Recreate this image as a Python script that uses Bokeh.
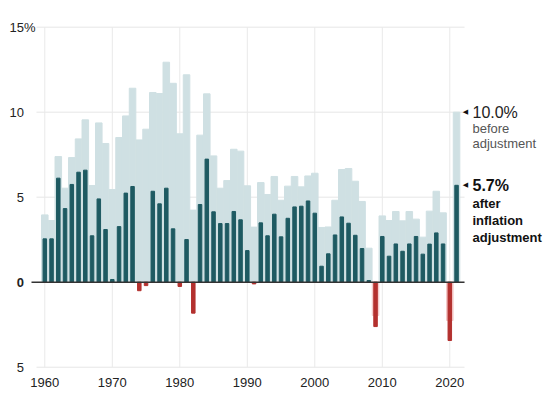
from bokeh.plotting import figure
from bokeh.models import ColumnDataSource, FixedTicker, Label
from bokeh.core.properties import value
from bokeh.embed import file_html
from bokeh.resources import INLINE

years = list(range(1960, 2022))
before = [3.96, 3.63, 7.39, 5.53, 7.33, 8.43, 9.55, 5.69, 9.37, 8.16,
          5.45, 8.51, 9.78, 11.41, 8.37, 9.0, 11.16, 11.1, 12.94, 11.7,
          8.73, 12.2, 4.24, 8.65, 11.08, 7.43, 5.53, 5.98, 7.82, 7.71,
          5.67, 3.24, 5.86, 5.16, 6.22, 4.82, 5.65, 6.22, 5.61, 6.25,
          6.41, 3.22, 3.25, 4.82, 6.63, 6.69, 5.94, 4.75, 2.0, -1.96,
          3.9, 3.63, 4.16, 3.61, 4.16, 3.71, 2.65, 4.18, 5.35, 4.08,
          -2.25, 10.0]
after = [2.55, 2.55, 6.12, 4.33, 5.75, 6.47, 6.59, 2.73, 4.9, 3.1,
         0.16, 3.27, 5.24, 5.63, -0.5, -0.2, 5.35, 4.61, 5.53, 3.14,
         -0.25, 2.51, -1.82, 4.57, 7.24, 4.14, 3.45, 3.45, 4.16, 3.67,
         1.86, -0.1, 3.49, 2.73, 4.0, 2.67, 3.76, 4.43, 4.47, 4.78,
         4.06, 0.94, 1.67, 2.78, 3.84, 3.47, 2.76, 1.98, 0.1, -2.61,
         2.69, 1.53, 2.25, 1.82, 2.25, 2.69, 1.65, 2.24, 2.9, 2.25,
         -3.43, 5.7]
y_ticks = [-5, 0, 5, 10, 15]
y_tick_labels = ["5", "0", "5", "10", "15"]
x_ticks = [1960, 1970, 1980, 1990, 2000, 2010, 2020]

LIGHT = "#cfe0e3"
PINK = "#f4c9c9"
DARK = "#1e5a62"
RED = "#b3312f"
FONT = "Liberation Sans"

# plot area edges (in data units)
X0, X1 = 1958.77, 2022.18
Y0, Y1 = min(y_ticks), max(y_ticks)

p = figure(width=549, height=394, output_backend="svg", toolbar_location=None,
           x_range=(1953.437, 2034.77), y_range=(-5.37, 16.57),
           y_axis_location=None,
           min_border_left=0, min_border_right=0, min_border_top=0,
           min_border_bottom=21)
p.outline_line_color = None
p.grid.visible = False

# grid lines
p.segment(x0=X0, x1=X1, y0=y_ticks, y1=y_ticks, line_color="#e6e6e6", line_width=1)
p.segment(x0=x_ticks, x1=x_ticks, y0=Y0, y1=Y1, line_color="#e9e9e9", line_width=1)

src = ColumnDataSource(dict(
    x=years, before=before, after=after,
    lc=[LIGHT if v >= 0 else PINK for v in before],
    dc=[DARK if v >= 0 else RED for v in after],
))
p.vbar(x="x", top="before", bottom=0, width=0.97, color="lc", source=src)
p.vbar(x="x", top="after", bottom=0, width=0.52, color="dc", source=src)

# zero line
p.segment(x0=X0 - 0.74, x1=X1, y0=0, y1=0, line_color="#333333", line_width=1.6)

# y tick labels
lab_src = ColumnDataSource(dict(
    y=y_ticks, t=y_tick_labels,
    st=["bold" if v == 0 else "normal" for v in y_ticks],
))
LX = 1956.9
p.text(x=LX, y="y", text="t", source=lab_src, text_font=value(FONT),
       text_font_size="13px", text_align="right", text_baseline="middle",
       text_color="#222222", text_font_style="st")
p.add_layout(Label(x=LX, y=Y1, text="%", text_font=FONT, text_font_size="13px",
                   text_align="left", text_baseline="middle", text_color="#222222"))

# x axis
p.xaxis.ticker = FixedTicker(ticks=x_ticks)
p.xaxis.axis_line_color = None
p.xaxis.major_tick_line_color = None
p.xaxis.minor_tick_line_color = None
p.xaxis.major_tick_out = 0
p.xaxis.major_tick_in = 0
p.xaxis.minor_tick_out = 0
p.xaxis.major_label_text_font = FONT
p.xaxis.major_label_text_font_size = "13px"
p.xaxis.major_label_text_color = "#222222"
p.xaxis.major_label_standoff = 4

# annotations
TX = 2022.33
AX = 2023.36
for yv in (before[-1], after[-1]):
    p.add_layout(Label(x=TX, y=yv, text="\u25C0", text_font="DejaVu Sans",
                       text_font_size="7px", text_align="center",
                       text_baseline="middle", text_color="#111111"))
p.add_layout(Label(x=AX, y=before[-1], text="10.0%", text_font=FONT,
                   text_font_size="16px", text_baseline="middle", text_color="#222222"))
p.add_layout(Label(x=AX, y=before[-1], y_offset=-16, text="before", text_font=FONT,
                   text_font_size="13px", text_baseline="middle", text_color="#555555"))
p.add_layout(Label(x=AX, y=before[-1], y_offset=-31, text="adjustment", text_font=FONT,
                   text_font_size="13px", text_baseline="middle", text_color="#555555"))
p.add_layout(Label(x=AX, y=after[-1], text="5.7%", text_font=FONT, text_font_style="bold",
                   text_font_size="16px", text_baseline="middle", text_color="#111111"))
for i, t in enumerate(["after", "inflation", "adjustment"]):
    p.add_layout(Label(x=AX, y=after[-1], y_offset=-18 - 17 * i, text=t, text_font=FONT,
                       text_font_style="bold", text_font_size="13px",
                       text_baseline="middle", text_color="#111111"))

open("out.html", "w").write(file_html(p, INLINE))
